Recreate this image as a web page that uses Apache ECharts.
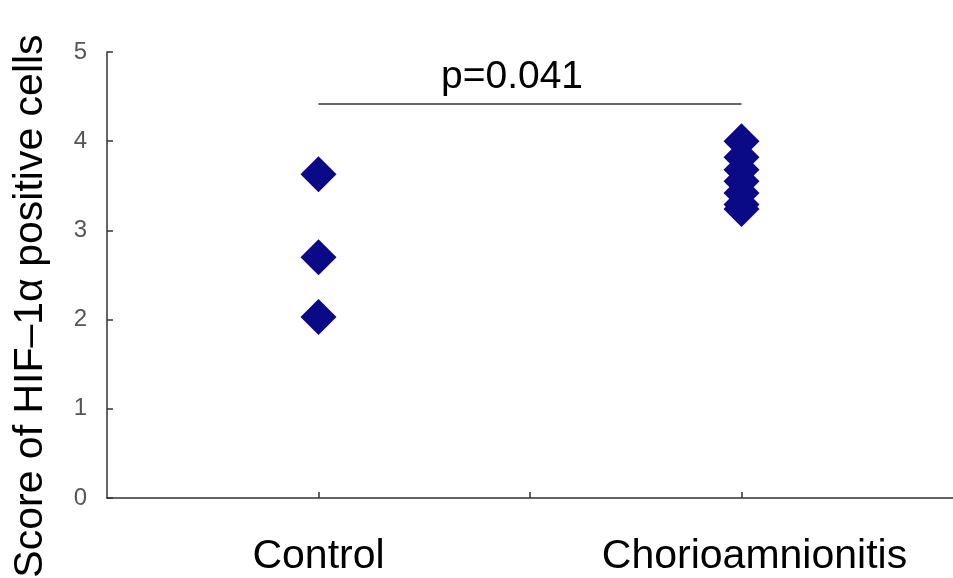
<!DOCTYPE html>
<html>
<head>
<meta charset="utf-8">
<script src="https://cdn.jsdelivr.net/npm/echarts@6/dist/echarts.min.js"></script>
<style>html,body{margin:0;padding:0;background:#fff}#c{width:953px;height:578px}</style>
</head>
<body>
<div id="c"></div>
<script>
const groups = ['Control', 'Chorioamnionitis'];
const groupPos = [0.5, 1.5];
const controlScores = [3.63, 2.7, 2.03];
const chorioScores = [4.0, 3.82, 3.68, 3.55, 3.42, 3.29, 3.24];
const yTicks = [0, 1, 2, 3, 4, 5];
const pLabel = 'p=0.041';
const pLineY = 4.42;

const chart = echarts.init(document.getElementById('c'), null, {renderer: 'canvas'});
const pts = [];
controlScores.forEach(v => pts.push([groupPos[0], v]));
chorioScores.forEach(v => pts.push([groupPos[1], v]));
const FONT = '"Liberation Sans", Arial, sans-serif';

chart.setOption({
  animation: false,
  backgroundColor: '#fff',
  grid: {left: 107, right: 0, top: 52, bottom: 80, containLabel: false, outerBoundsMode: 'none'},
  xAxis: {
    type: 'value', min: 0, max: 2, interval: 0.5,
    splitLine: {show: false},
    axisLine: {lineStyle: {color: '#333', width: 1.5}},
    axisTick: {show: true, length: -6, lineStyle: {color: '#333', width: 1.5},
      customValues: groupPos.concat([1])},
    axisLabel: {
      customValues: groupPos,
      margin: 38,
      fontFamily: FONT,
      fontSize: 41, color: '#000',
      formatter: v => {
        const i = groupPos.indexOf(v);
        if (i === 1) return '{b|' + groups[i] + '}';
        return i >= 0 ? groups[i] : '';
      },
      rich: {b: {fontFamily: FONT, fontSize: 41, color: '#000', padding: [0, 0, 0, 26]}}
    }
  },
  yAxis: {
    type: 'value', min: yTicks[0], max: yTicks[yTicks.length - 1], interval: 1,
    splitLine: {show: false},
    axisLine: {show: true, lineStyle: {color: '#333', width: 1.5}},
    axisTick: {show: true, length: -6, lineStyle: {color: '#333', width: 1.5}},
    axisLabel: {margin: 20, fontSize: 24, color: '#555', fontFamily: FONT},
    name: 'Score of HIF\u20131\u03b1 positive cells',
    nameLocation: 'middle', nameGap: 56,
    nameTextStyle: {fontSize: 41, color: '#000', fontFamily: FONT, padding: [0, 62, 0, 0]}
  },
  series: [{
    type: 'scatter',
    data: pts,
    symbol: 'diamond',
    symbolSize: 36,
    itemStyle: {color: '#0a0a86', opacity: 1},
    markLine: {
      silent: true,
      symbol: ['none', 'none'],
      lineStyle: {color: '#333', width: 1.5, type: 'solid'},
      label: {show: true, position: 'middle', formatter: pLabel, fontSize: 39, color: '#000',
        fontFamily: FONT, offset: [-18, -2]},
      data: [[{coord: [groupPos[0], pLineY]}, {coord: [groupPos[1], pLineY]}]]
    }
  }]
});
</script>
</body>
</html>
